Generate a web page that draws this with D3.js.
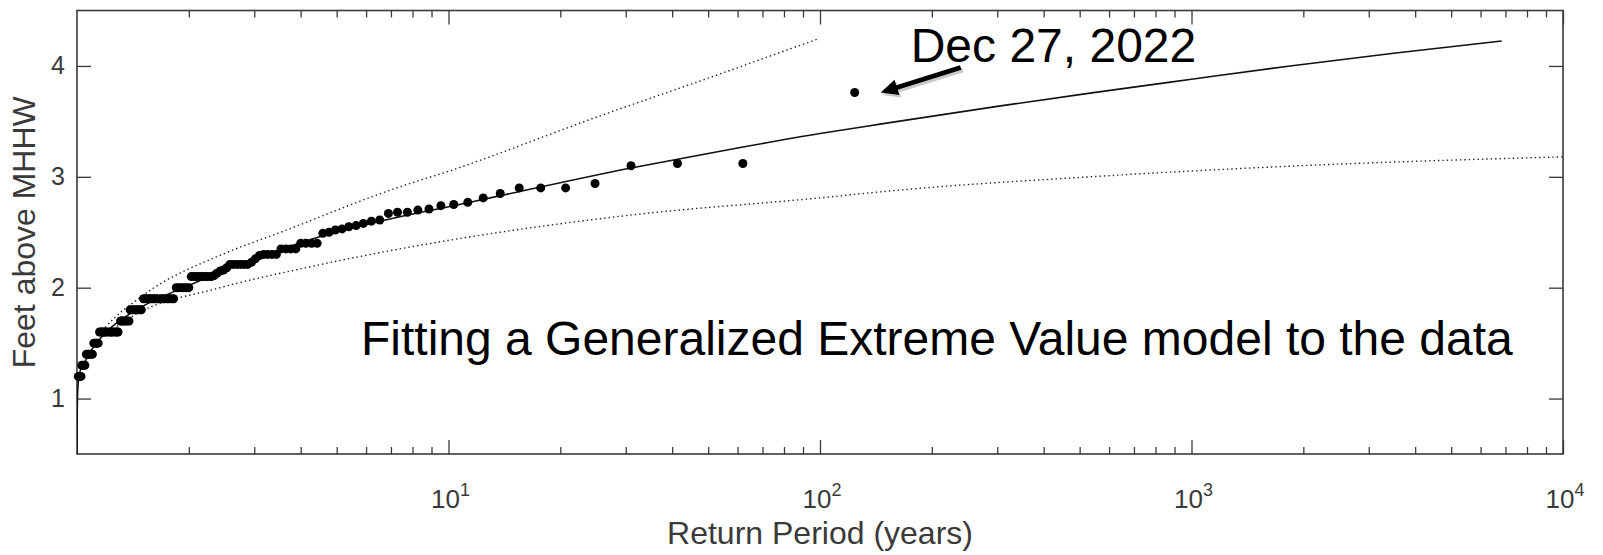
<!DOCTYPE html>
<html>
<head>
<meta charset="utf-8">
<script src="https://cdn.jsdelivr.net/npm/d3@7"></script>
<style>
  html, body { margin: 0; padding: 0; background: #fff; }
  svg { display: block; font-family: "Liberation Sans", Arial, Helvetica, sans-serif; }
</style>
</head>
<body>
<svg id="chart"></svg>
<script>
"use strict";

// ---------- data ----------
// empirical return periods (years), largest event first
const returnPeriods = [
  124, 62, 41.33, 31, 24.8, 20.67, 17.71, 15.5, 13.78, 12.4,
  11.27, 10.33, 9.54, 8.86, 8.27, 7.75, 7.29, 6.89, 6.53, 6.2,
  5.9, 5.64, 5.39, 5.17, 4.96, 4.77, 4.59, 4.43, 4.28, 4.13,
  4.0, 3.88, 3.76, 3.65, 3.54, 3.44, 3.35, 3.26, 3.18, 3.1,
  3.02, 2.95, 2.88, 2.82, 2.76, 2.7, 2.64, 2.58, 2.53, 2.48,
  2.43, 2.38, 2.34, 2.3, 2.25, 2.21, 2.18, 2.14, 2.1, 2.07,
  2.03, 2.0, 1.97, 1.94, 1.91, 1.88, 1.85, 1.82, 1.8, 1.77,
  1.75, 1.72, 1.7, 1.68, 1.65, 1.63, 1.61, 1.59, 1.57, 1.55,
  1.53, 1.51, 1.49, 1.48, 1.46, 1.44, 1.43, 1.41, 1.39, 1.38,
  1.36, 1.35, 1.33, 1.32, 1.31, 1.29, 1.28, 1.27, 1.25, 1.24,
  1.23, 1.22, 1.2, 1.19, 1.18, 1.17, 1.16, 1.15, 1.14, 1.13,
  1.12, 1.11, 1.1, 1.09, 1.08, 1.07, 1.06, 1.05, 1.04, 1.03,
  1.025, 1.016, 1.008
];
// annual max water level (ft above MHHW), same order
const levels = [
  3.76, 3.12, 3.12, 3.10, 2.94, 2.90, 2.90, 2.90, 2.85, 2.81,
  2.77, 2.75, 2.74, 2.71, 2.70, 2.68, 2.68, 2.67, 2.61, 2.60,
  2.58, 2.56, 2.55, 2.53, 2.52, 2.50, 2.49, 2.40, 2.40, 2.40,
  2.40, 2.35, 2.35, 2.35, 2.35, 2.30, 2.30, 2.30, 2.30, 2.29,
  2.26, 2.23, 2.21, 2.21, 2.21, 2.21, 2.21, 2.21, 2.18, 2.16,
  2.15, 2.13, 2.11, 2.10, 2.10, 2.10, 2.10, 2.10, 2.10, 2.10,
  2.10, 2.00, 2.00, 2.00, 2.00, 2.00, 2.00, 1.90, 1.90, 1.90,
  1.90, 1.90, 1.90, 1.90, 1.90, 1.90, 1.90, 1.90, 1.90, 1.90,
  1.90, 1.90, 1.80, 1.80, 1.80, 1.80, 1.80, 1.80, 1.80, 1.70,
  1.70, 1.70, 1.70, 1.70, 1.70, 1.60, 1.60, 1.60, 1.60, 1.60,
  1.60, 1.60, 1.60, 1.60, 1.60, 1.60, 1.60, 1.60, 1.50, 1.50,
  1.50, 1.50, 1.40, 1.40, 1.40, 1.40, 1.40, 1.30, 1.30, 1.30,
  1.20, 1.20, 1.20
];

// GEV fit (solid) and its confidence bounds (dotted)
const fitT   = [1.0001, 1.0005, 1.002, 1.008, 1.02, 1.05, 1.1, 1.2, 1.5, 2, 3, 4.5, 7.4, 10, 31, 60, 100, 145, 300, 533, 1000, 1842, 3500, 6840];
const fitY   = [0.30, 0.70, 0.95, 1.15, 1.25, 1.33, 1.45, 1.60, 1.83, 2.02, 2.26, 2.46, 2.64, 2.73, 3.08, 3.26, 3.39, 3.475, 3.635, 3.755, 3.88, 4.0, 4.115, 4.225];
const upperT = [1.15, 1.19, 1.49, 2.5, 3.41, 7.4, 10, 25.6, 50, 98];
const upperY = [1.58, 1.64, 1.92, 2.31, 2.48, 2.91, 3.05, 3.55, 3.89, 4.24];
const lowerT = [1.2, 1.39, 2.43, 4, 7.4, 30, 100, 163, 533, 1960, 10000];
const lowerY = [1.58, 1.73, 2.00, 2.17, 2.35, 2.65, 2.81, 2.88, 3.00, 3.10, 3.18];

const xMajorTicks = [10, 100, 1000, 10000];
const xTickExponents = ["1", "2", "3", "4"];
const yTicks = [1, 2, 3, 4];

const xLabel = "Return Period (years)";
const yLabel = "Feet above MHHW";
const noteText = "Fitting a Generalized Extreme Value model to the data";
const eventText = "Dec 27, 2022";

// ---------- layout ----------
const W = 1603, H = 555;
const margin = { top: 10.5, right: 40, bottom: 101, left: 77 };
const width = W - margin.left - margin.right;
const height = H - margin.top - margin.bottom;
const axisColor = "#3a3a3a";

const svg = d3.select("#chart").attr("width", W).attr("height", H);
svg.append("rect").attr("width", W).attr("height", H).attr("fill", "#fff");

const g = svg.append("g").attr("transform", `translate(${margin.left},${margin.top})`);

// ---------- scales ----------
const x = d3.scaleLog().domain([1, 10000]).range([0, width]);
const y = d3.scaleLinear().domain([0.5, 4.5]).range([height, 0]);

const xMinor = x.ticks().filter(t => xMajorTicks.indexOf(t) < 0 && Math.abs(Math.log10(t) % 1) > 1e-9);

g.append("clipPath").attr("id", "plotClip")
  .append("rect").attr("width", width).attr("height", height);

// ---------- ticks (inward, all four sides, like a boxed MATLAB axis) ----------
function tickLayer(axisFn, values, size, transform) {
  const layer = g.append("g")
    .attr("transform", transform)
    .call(axisFn.tickValues(values).tickSize(-size).tickFormat(""));
  layer.select(".domain").remove();
  layer.selectAll("line").attr("stroke", axisColor).attr("stroke-width", 1.3);
  return layer;
}
tickLayer(d3.axisBottom(x), xMajorTicks, 14, `translate(0,${height})`);
tickLayer(d3.axisBottom(x), xMinor, 7, `translate(0,${height})`);
tickLayer(d3.axisTop(x), xMajorTicks, 14, "translate(0,0)");
tickLayer(d3.axisTop(x), xMinor, 7, "translate(0,0)");
tickLayer(d3.axisRight(y), yTicks, 14, `translate(${width},0)`);

// left axis carries the tick labels
const yAxisG = g.append("g")
  .call(d3.axisLeft(y).tickValues(yTicks).tickSize(-14).tickPadding(12).tickFormat(d3.format("d")));
yAxisG.select(".domain").remove();
yAxisG.selectAll("line").attr("stroke", axisColor).attr("stroke-width", 1.3);
yAxisG.selectAll("text")
  .attr("fill", axisColor)
  .style("font-size", "25px")
  .style("font-family", "'Liberation Sans', Arial, sans-serif");

// x tick labels as 10^n
const xt = g.append("g").attr("class", "x-labels");
xMajorTicks.forEach((t, i) => {
  const txt = xt.append("text")
    .attr("x", x(t) + 2)
    .attr("y", height + 54)
    .attr("text-anchor", "middle")
    .attr("fill", axisColor)
    .style("font-size", "26px");
  txt.append("tspan").text("10");
  txt.append("tspan").attr("dy", -12).style("font-size", "18px").text(xTickExponents[i]);
});

// axes box
g.append("rect")
  .attr("width", width).attr("height", height)
  .attr("fill", "none").attr("stroke", axisColor).attr("stroke-width", 1.6);

// ---------- curves ----------
const line = d3.line()
  .x(d => x(d[0]))
  .y(d => y(d[1]))
  .curve(d3.curveMonotoneX);

const curves = g.append("g").attr("clip-path", "url(#plotClip)");

curves.append("path")
  .datum(d3.zip(upperT, upperY))
  .attr("d", line)
  .attr("fill", "none").attr("stroke", "#222").attr("stroke-width", 1.4)
  .attr("stroke-dasharray", "1.4,3");

curves.append("path")
  .datum(d3.zip(lowerT, lowerY))
  .attr("d", line)
  .attr("fill", "none").attr("stroke", "#222").attr("stroke-width", 1.4)
  .attr("stroke-dasharray", "1.4,3");

curves.append("path")
  .datum(d3.zip(fitT, fitY))
  .attr("d", line)
  .attr("fill", "none").attr("stroke", "#111").attr("stroke-width", 1.6);

// ---------- observed points ----------
const points = d3.zip(returnPeriods, levels);
g.append("g").selectAll("circle")
  .data(points)
  .enter()
  .append("circle")
  .attr("cx", d => x(d[0]))
  .attr("cy", d => y(d[1]))
  .attr("r", 4.5)
  .attr("fill", "#000");

// ---------- axis labels ----------
svg.append("text")
  .attr("x", margin.left + width / 2)
  .attr("y", 544)
  .attr("text-anchor", "middle")
  .attr("fill", axisColor)
  .style("font-size", "32px")
  .text(xLabel);

svg.append("text")
  .attr("transform", `translate(35,${margin.top + height / 2}) rotate(-90)`)
  .attr("text-anchor", "middle")
  .attr("fill", axisColor)
  .style("font-size", "32px")
  .text(yLabel);

// ---------- annotations ----------
g.append("text")
  .attr("x", 284)
  .attr("y", 344)
  .attr("fill", "#000")
  .style("font-size", "48px")
  .text(noteText);

// arrow pointing to the largest event, placed relative to that point
const top1 = points[0];
const px = x(top1[0]), py = y(top1[1]);
const tip = [px + 26, py];
const tail = [px + 106, py - 25];
const ang = Math.atan2(tail[1] - tip[1], tail[0] - tip[0]);
const headLen = 17, headW = 8, shaftW = 2.4;
const ux = Math.cos(ang), uy = Math.sin(ang), nx = -uy, ny = ux;
const hb = [tip[0] + ux * headLen, tip[1] + uy * headLen];
const arrowPts = [
  tip,
  [hb[0] + nx * headW, hb[1] + ny * headW],
  [hb[0] + nx * shaftW, hb[1] + ny * shaftW],
  [tail[0] + nx * shaftW, tail[1] + ny * shaftW],
  [tail[0] - nx * shaftW, tail[1] - ny * shaftW],
  [hb[0] - nx * shaftW, hb[1] - ny * shaftW],
  [hb[0] - nx * headW, hb[1] - ny * headW]
];
g.append("polygon")
  .attr("points", arrowPts.map(p => `${p[0] + 2},${p[1] + 2.5}`).join(" "))
  .attr("fill", "#888").attr("opacity", 0.45);
g.append("polygon")
  .attr("points", arrowPts.map(p => p.join(",")).join(" "))
  .attr("fill", "#000");

g.append("text")
  .attr("x", tip[0] + 30)
  .attr("y", py - 31)
  .attr("fill", "#000")
  .style("font-size", "48px")
  .text(eventText);
</script>
</body>
</html>
